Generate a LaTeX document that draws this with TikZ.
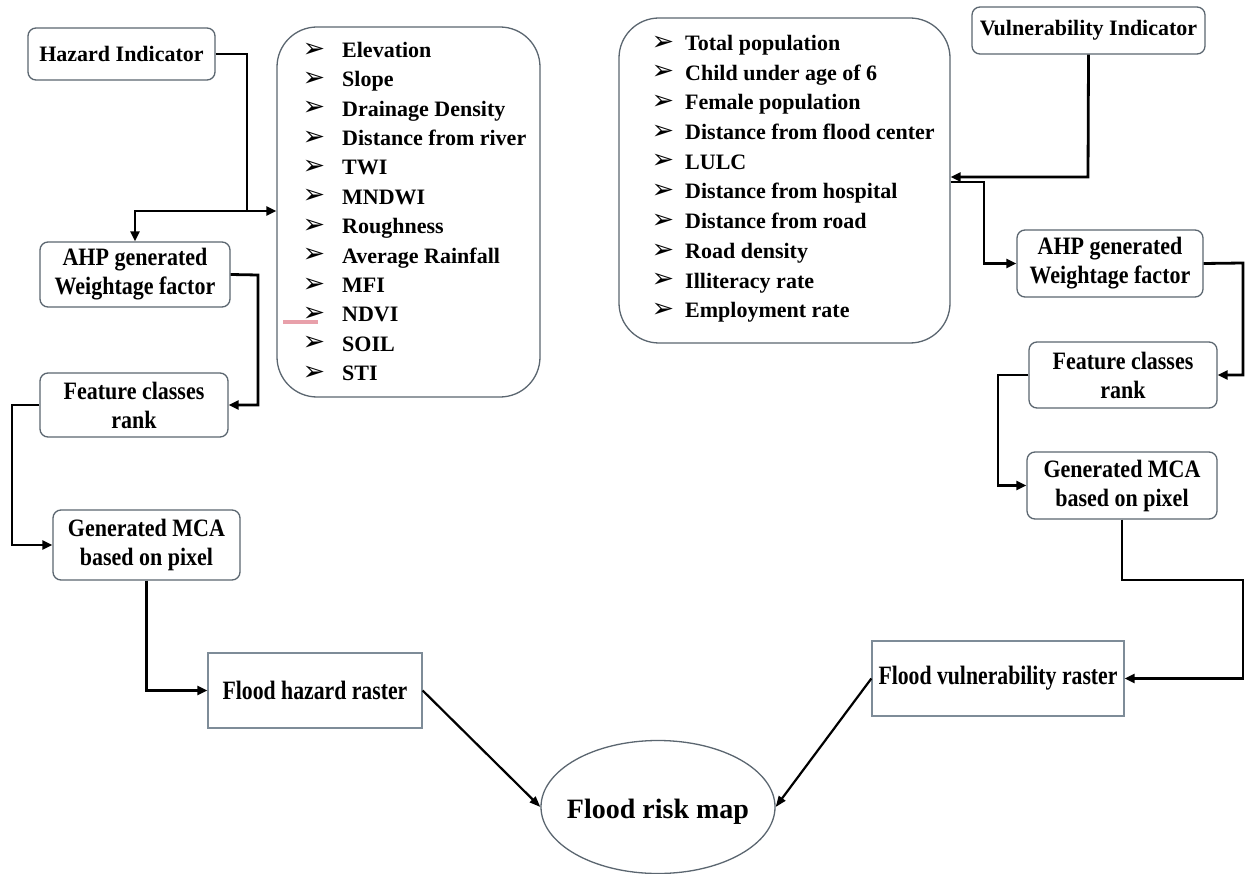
\documentclass[tikz,border=0pt]{standalone}
\usepackage{fontspec}
\setmainfont{Liberation Serif}
\newfontfamily\condA{Liberation Serif}[FakeStretch=0.88]
\newfontfamily\condB{Liberation Serif}[FakeStretch=0.82]
\newfontfamily\arrfont{DejaVu Sans}
\usetikzlibrary{arrows.meta,shapes.geometric}
\definecolor{boxgray}{HTML}{5B6670}
\definecolor{rastergray}{HTML}{7E8C98}
\definecolor{squiggle}{HTML}{E8A0AA}
\tikzset{
  rbox/.style={draw=boxgray, line width=1.3pt, rounded corners=8pt, fill=white, align=center, inner sep=0pt},
  listbox/.style={draw=boxgray, line width=1.3pt, rounded corners=40pt, fill=white, inner sep=0pt},
  rasterbox/.style={draw=rastergray, line width=1.3pt, fill=white, align=center, inner sep=0pt},
  topfont/.style={font=\fontsize{22}{29}\selectfont\bfseries},
  midfont/.style={font=\condA\fontsize{25}{29}\selectfont\bfseries},
  lowfont/.style={font=\condB\fontsize{26.5}{30}\selectfont\bfseries},
  itemtext/.style={font=\fontsize{22}{29}\selectfont\bfseries, anchor=base west, inner sep=0pt},
  bullet/.style={font=\arrfont\fontsize{27}{27}\selectfont, inner sep=0pt},
  conn/.style={draw=black, line width=2.8pt, -{Triangle[length=10pt,width=9pt]}},
  plain/.style={draw=black, line width=2.8pt},
  diag/.style={draw=black, line width=2.2pt, -{Triangle[length=11pt,width=8pt]}}
}
\begin{document}
\begin{tikzpicture}[x=1pt,y=-1pt]
\useasboundingbox (0,0) rectangle (1246,874);
\fill[white] (0,0) rectangle (1246,874);

% ---------- left (hazard) side ----------
\node[rbox, topfont, minimum width=187pt, minimum height=52pt] (HI) at (121.5,54) {Hazard Indicator};
\node[listbox, minimum width=263pt, minimum height=370pt] (hlist) at (408.5,212) {};
\foreach \txt [count=\i from 0] in {Elevation, Slope, Drainage Density, Distance from river, TWI, MNDWI, Roughness, Average Rainfall, MFI, NDVI, SOIL, STI}{
  \node[bullet] (hb\i) at (314,{50+29.36*\i}) {➢};
  \node[itemtext] (h\i) at (342,{50+29.36*\i+7.5}) {\txt};
}
\draw[squiggle, line width=3.5pt] (283,322) -- (318,322);

\node[rbox, midfont, minimum width=190pt, minimum height=65pt] (AHPL) at (135,274.5) {AHP generated\\Weightage factor};
\node[rbox, midfont, minimum width=188pt, minimum height=64pt] (FCL) at (134,405) {Feature classes\\rank};
\node[rbox, midfont, minimum width=187pt, minimum height=70pt] (MCAL) at (146.5,545) {Generated MCA\\based on pixel};
\node[rasterbox, lowfont, minimum width=214pt, minimum height=75pt] (FHR) at (315,690.5) {\raisebox{-6pt}{Flood hazard raster}};

% ---------- centre ----------
\node[ellipse, draw=boxgray, line width=1.3pt, fill=white, minimum width=234pt, minimum height=133pt, inner sep=0pt,
      font=\fontsize{28}{30}\selectfont\bfseries] (FRM) at (658,807) {\makebox[0pt]{\raisebox{-11pt}[0pt][0pt]{Flood risk map}}};

% ---------- right (vulnerability) side ----------
\node[rbox, topfont, minimum width=233pt, minimum height=47pt] (VI) at (1088.5,30.5) {Vulnerability Indicator};
\node[listbox, minimum width=331pt, minimum height=325pt] (vlist) at (784.5,180.5) {};
\foreach \txt [count=\i from 0] in {Total population, Child under age of 6, Female population, Distance from flood center, LULC, Distance from hospital, Distance from road, Road density, Illiteracy rate, Employment rate}{
  \node[bullet] (vb\i) at (663,{43+29.7*\i}) {➢};
  \node[itemtext] (v\i) at (685,{43+29.7*\i+7.5}) {\txt};
}
\node[rbox, midfont, minimum width=186pt, minimum height=67pt] (AHPR) at (1110,263.5) {AHP generated\\Weightage factor};
\node[rbox, midfont, minimum width=188pt, minimum height=66pt] (FCR) at (1123,375) {Feature classes\\rank};
\node[rbox, midfont, minimum width=190pt, minimum height=67pt] (MCAR) at (1122,485.5) {Generated MCA\\based on pixel};
\node[rasterbox, lowfont, minimum width=252pt, minimum height=75pt] (FVR) at (998,678.5) {\raisebox{2pt}{Flood vulnerability raster}};

% ---------- connectors ----------
\coordinate (jL) at (247,211);
\coordinate (cL1) at (12,405);
\coordinate (jR) at (1088,177);
\coordinate (cR1) at (984,182);
\coordinate (cR2) at (1243,263);
\coordinate (cR3) at (998,375);
\coordinate (cR4) at (1122,580);
\coordinate (cR5) at (1243,580);

\draw[plain] (HI.east) -| (jL);
\draw[conn] (jL) -- (jL -| hlist.west);
\draw[conn] (jL) -| (AHPL.north);
\draw[conn] (AHPL.east) -- (258,275) |- (FCL.east);
\draw[conn] (FCL.west) -- (cL1) |- (MCAL.west);
\draw[conn] (MCAL.south) |- (FHR.west);
\draw[diag] (FHR.east) -- (FRM.west);

\draw[conn] (VI.south) -- (jR) -- (jR -| vlist.east);
\draw[conn] (cR1 -| vlist.east) -- (cR1) |- (AHPR.west);
\draw[conn] (AHPR.east) -- (cR2) |- (FCR.east);
\draw[conn] (FCR.west) -- (cR3) |- (MCAR.west);
\draw[conn] (MCAR.south) -- (cR4) -- (cR5) |- (FVR.east);
\draw[diag] (FVR.west) -- (FRM.east);
\end{tikzpicture}
\end{document}
